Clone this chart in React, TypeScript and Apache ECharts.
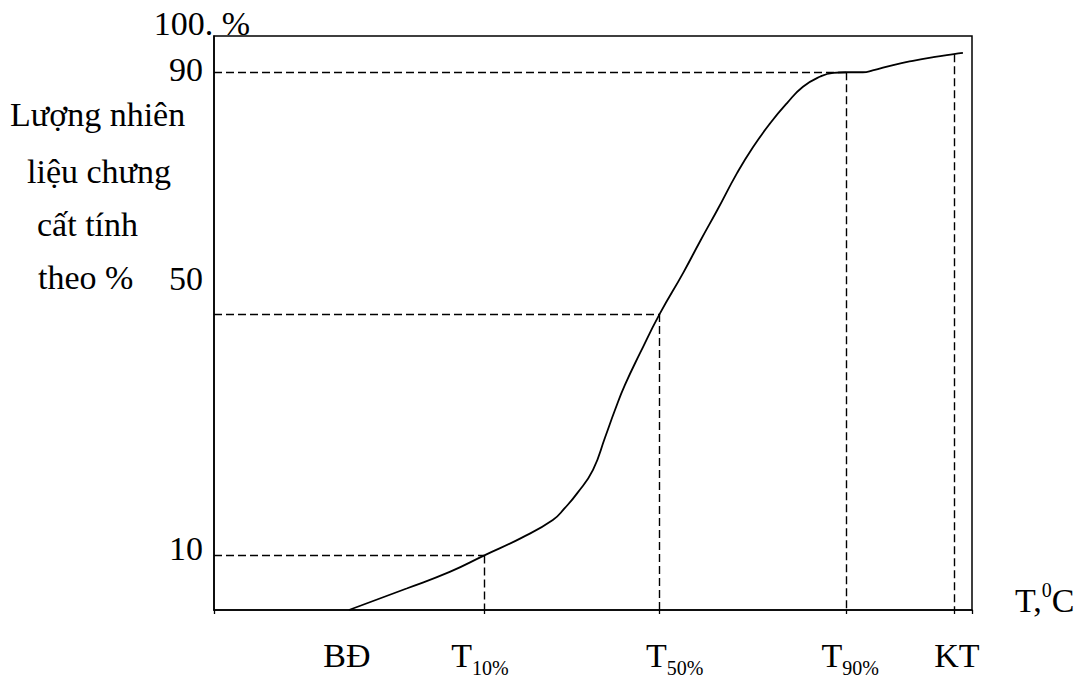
import React, { useEffect, useRef } from "react";
import * as echarts from "echarts";

// ---- data ----
const curveX = [17.8, 25.5, 31.1, 35.6, 40.5, 44.7, 46.3, 47.9, 50.0, 51.6, 52.9, 54.2, 56.2, 58.8, 61.9, 64.2, 66.4, 69.0, 71.1, 73.4, 75.6, 77.7, 80.0, 81.7, 83.4, 85.6, 86.9, 89.6, 92.2, 94.9, 97.6, 98.8];
const curveY = [1, 4.6, 7.3, 10, 12.9, 15.9, 17.9, 20.3, 24.2, 29.6, 34.1, 38.2, 43.5, 50, 56.8, 62.2, 67.2, 73.3, 77.6, 81.6, 84.9, 87.6, 89.3, 89.9, 90, 90.0, 90.3, 91.2, 91.9, 92.5, 93.0, 93.2];

const refLevels = [10, 50, 90];
const refTemps = [35.6, 58.8, 83.4];
const endTemp = 97.6;
const endLevel = 93.0;

const xLabelValues = [17.8, 35.6, 58.8, 83.4, 97.6];
const xLabelMain = ["BĐ", "T", "T", "T", "KT"];
const xLabelSub = ["", "10%", "50%", "90%", ""];
const xTickValues = [0, 35.6, 58.8, 83.4, 97.6, 100];

const yTickLabels = [10, 50, 90];
const yTopLabel = "100. %";
const yTitleLines = ["Lượng nhiên", "liệu chưng", "cất tính", "theo %"];
const xAxisName = ["T,", "0", "C"];

// ---- layout ----
const FONT = "'Liberation Serif', 'Times New Roman', serif";
const FS = 34;
const SUB = 20;
const xLabelShift = [-2, -4, 15, 4, 3];
const yLabelLift = [14, 70, 6];
const titleLeft = [10, 27, 37, 38];
const titleMid = [114, 171, 224, 277];

export default function App() {
  const ref = useRef<HTMLDivElement>(null);
  useEffect(() => {
    if (!ref.current) return;
    const chart = echarts.init(ref.current, null, { renderer: "svg" });

    const xRich: any = {};
    xLabelShift.forEach((s, i) => {
      const hasSub = xLabelSub[i] !== "";
      xRich["m" + i] = {
        fontSize: FS,
        fontFamily: FONT,
        color: "#000",
        lineHeight: 46,
        padding: [0, hasSub ? 0 : Math.max(0, -2 * s), 0, Math.max(0, 2 * s)],
      };
      xRich["s" + i] = {
        fontSize: SUB,
        fontFamily: FONT,
        color: "#000",
        lineHeight: 20,
        verticalAlign: "bottom",
        padding: [0, Math.max(0, -2 * s), 0, 0],
      };
    });
    const yRich: any = {};
    yLabelLift.forEach((p, i) => {
      yRich["y" + i] = {
        fontSize: FS,
        fontFamily: FONT,
        color: "#000",
        padding: [0, 0, p, 0],
      };
    });

    const dash = { color: "#000", width: 1.4, type: [8, 4] as any };
    const mlData: any[] = [];
    refLevels.forEach((lvl, i) => {
      mlData.push([{ coord: [0, lvl] }, { coord: [refTemps[i], lvl] }]);
      mlData.push([{ coord: [refTemps[i], lvl] }, { coord: [refTemps[i], 1] }]);
    });
    mlData.push([{ coord: [endTemp, endLevel] }, { coord: [endTemp, 1] }]);

    const closest = (arr: number[], v: number) => {
      let bi = 0;
      arr.forEach((a, i) => {
        if (Math.abs(a - v) < Math.abs(arr[bi] - v)) bi = i;
      });
      return bi;
    };

    chart.setOption({
      animation: false,
      backgroundColor: "#fff",
      grid: {
        left: 214,
        right: 109,
        top: 36,
        bottom: 69,
        show: true,
        borderColor: "#000",
        borderWidth: 1.5,
      },
      xAxis: {
        type: "value",
        min: 0,
        max: 100,
        name: `{a|${xAxisName[0]}}{b|${xAxisName[1]}}{a|${xAxisName[2]}}`,
        nameLocation: "end",
        nameGap: 43,
        nameTextStyle: {
          padding: [0, 0, 20, 0],
          rich: {
            a: { fontSize: FS, fontFamily: FONT, color: "#000", lineHeight: 40 },
            b: { fontSize: SUB, fontFamily: FONT, color: "#000", lineHeight: 20, verticalAlign: "top" },
          },
        },
        axisLine: { lineStyle: { color: "#000", width: 1.5 } },
        axisTick: { show: true, length: 4, customValues: xTickValues, lineStyle: { color: "#000", width: 1.3 } },
        splitLine: { show: false },
        axisLabel: {
          customValues: xLabelValues,
          margin: 22,
          formatter: (v: number) => {
            const i = closest(xLabelValues, v);
            return xLabelSub[i]
              ? `{m${i}|${xLabelMain[i]}}{s${i}|${xLabelSub[i]}}`
              : `{m${i}|${xLabelMain[i]}}`;
          },
          rich: xRich,
        },
      },
      yAxis: {
        type: "value",
        min: 1,
        max: 96,
        name: yTopLabel,
        nameLocation: "end",
        nameGap: -4,
        nameTextStyle: { fontSize: FS, fontFamily: FONT, color: "#000", padding: [0, 24, 0, 0] },
        axisLine: { show: true, lineStyle: { color: "#000", width: 1.5 } },
        axisTick: { show: false },
        splitLine: { show: false },
        axisLabel: {
          customValues: yTickLabels,
          margin: 11,
          formatter: (v: number) => {
            const i = closest(yTickLabels, v);
            return `{y${i}|${yTickLabels[i]}}`;
          },
          rich: yRich,
        },
      },
      graphic: yTitleLines.map((t, i) => ({
        type: "text",
        x: titleLeft[i],
        y: titleMid[i],
        style: {
          text: t,
          fontSize: FS,
          fontFamily: FONT,
          fill: "#000",
          textAlign: "left",
          textVerticalAlign: "middle",
        },
      })),
      series: [
        {
          type: "line",
          data: curveX.map((x, i) => [x, curveY[i]]),
          smooth: 0.5,
          showSymbol: false,
          symbol: "none",
          lineStyle: { color: "#000", width: 1.8 },
          markLine: {
            silent: true,
            symbol: "none",
            label: { show: false },
            lineStyle: dash,
            data: mlData,
          },
        },
      ],
    });
    return () => chart.dispose();
  }, []);
  return (
    <div
      ref={ref}
      style={{ position: "absolute", left: 0, top: 0, width: 1081, height: 679, background: "#fff" }}
    />
  );
}
